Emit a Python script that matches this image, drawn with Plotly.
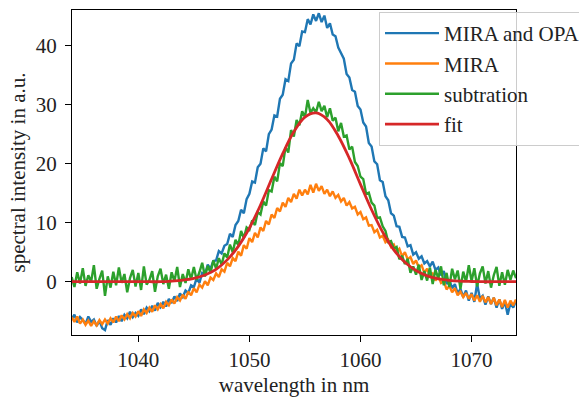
import numpy as np
import plotly.graph_objects as go

# wavelength grid (nm) for measured spectra, 0.25 nm steps
wl_start, wl_stop, wl_step = 1034.0, 1074.0, 0.25
wavelength = np.round(np.arange(wl_start, wl_stop + wl_step / 2, wl_step), 2)

mira_opa = [
    -6.3, -5.6, -6.9, -6.0,
    -6.5, -7.2, -5.9, -6.8,
    -6.4, -7.5, -6.6, -7.9,
    -8.2, -6.5, -7.3, -6.2,
    -6.9, -5.8, -6.7, -5.6,
    -6.2, -5.1, -6.0, -5.3,
    -5.8, -4.7, -5.5, -4.4,
    -5.0, -4.1, -4.9, -3.6,
    -4.3, -3.4, -4.2, -2.9,
    -3.6, -2.5, -3.3, -2.0,
    -2.6, -1.5, -1.9, -0.6,
    -0.9, 0.6, -0.2, 1.5,
    1.2, 2.9, 2.2, 3.5,
    3.6, 5.2, 4.8, 6.1,
    6.4, 8.1, 7.6, 9.6,
    10.3, 12.2, 11.6, 14.0,
    14.9, 17.0, 16.8, 19.4,
    20.0, 22.6, 22.1, 25.0,
    25.8, 28.2, 28.0, 31.0,
    31.7, 34.3, 34.0, 37.0,
    37.6, 40.4, 39.9, 42.4,
    42.3, 44.5, 43.6, 45.3,
    44.2, 45.5, 44.0, 45.1,
    43.0, 43.8, 41.9, 41.6,
    39.7, 38.8, 37.8, 35.2,
    34.6, 32.5, 32.2, 29.8,
    29.2, 27.0, 26.3, 23.5,
    22.9, 20.4, 19.9, 17.2,
    16.9, 14.5, 13.8, 11.6,
    11.2, 9.4, 9.3, 7.6,
    7.5, 6.0, 6.2, 4.6,
    5.0, 3.9, 4.3, 3.1,
    3.5, 2.6, 3.4, 2.0,
    2.4, 1.1, 1.8, -0.4,
    0.3, -1.1, -0.4, -2.0,
    -1.2, -2.6, -1.5, -3.2,
    -1.9, -3.4, -0.3, -2.9,
    -2.4, -3.9, -2.5, -3.8,
    -2.7, -4.4, -3.0, -4.6,
    -3.4, -5.6, -3.6, -4.4,
    -3.2,
]

mira = [
    -6.0, -6.8, -5.9, -7.1,
    -6.4, -7.3, -6.6, -7.5,
    -6.7, -7.4, -6.5, -7.2,
    -6.4, -7.1, -6.2, -6.9,
    -5.9, -6.7, -5.7, -6.4,
    -5.5, -6.2, -5.3, -5.9,
    -5.0, -5.8, -4.7, -5.3,
    -4.4, -5.1, -4.0, -4.7,
    -3.8, -4.5, -3.4, -4.0,
    -3.0, -3.7, -2.6, -3.2,
    -2.2, -2.9, -1.7, -2.3,
    -1.1, -1.8, -0.5, -1.0,
    0.1, -0.6, 0.7, 0.3,
    1.4, 0.8, 2.1, 1.7,
    3.2, 2.6, 4.0, 3.5,
    5.1, 4.4, 6.2, 5.6,
    7.4, 6.7, 8.3, 7.5,
    9.2, 8.6, 10.3, 9.7,
    11.4, 10.8, 12.5, 11.9,
    13.4, 12.7, 14.2, 13.5,
    14.9, 14.1, 15.6, 14.6,
    15.6, 14.8, 16.4, 15.1,
    16.6, 15.4, 16.2, 14.9,
    15.6, 14.5, 15.3, 14.2,
    14.7, 13.6, 14.2, 12.9,
    13.5, 12.4, 12.7, 11.4,
    11.8, 10.6, 10.9, 9.5,
    9.6, 8.4, 8.8, 7.5,
    7.8, 6.7, 7.1, 5.9,
    6.3, 5.1, 5.6, 4.3,
    5.0, 3.8, 4.2, 3.0,
    3.6, 2.4, 2.8, 1.5,
    2.2, 1.0, 1.4, 0.2,
    1.0, -0.2, 0.1, -1.3,
    -0.7, -1.8, -1.1, -2.3,
    -1.7, -2.6, -1.9, -2.9,
    -2.1, -3.2, -2.3, -3.4,
    -2.4, -3.5, -2.6, -3.8,
    -2.7, -4.0, -3.0, -4.3,
    -3.1, -4.4, -3.2, -4.0,
    -3.0,
]

subtraction = [
    0.8, -0.9, 1.6, -0.3,
    2.3, -0.7, 1.1, 0.0,
    2.8, -1.2, 0.5, 1.9,
    -2.4, 0.9, -1.0, 1.7,
    -0.6, 2.4, -0.2, 1.3,
    -1.8, 0.6, 2.0, -0.8,
    1.5, -1.4, 2.6, -0.5,
    0.3, 1.8, -1.7, 0.9,
    2.2, -0.4, 1.2, -1.2,
    1.6, 0.1, 2.5, -0.9,
    1.3, -0.2, 2.1, 0.4,
    2.5, 0.3, 1.6, 3.2,
    0.9, 2.7, 1.5, 3.6,
    2.2, 4.0, 2.9, 4.8,
    4.1, 6.3, 5.0, 7.1,
    6.2, 8.6, 7.4, 9.2,
    8.8, 10.4, 9.6, 11.8,
    11.4, 13.6, 12.9, 15.5,
    15.3, 17.8, 17.0, 20.1,
    19.6, 22.8, 21.9, 25.7,
    24.6, 27.4, 26.5, 28.9,
    27.9, 30.8, 28.6, 29.4,
    28.7, 30.5, 28.9, 29.8,
    27.9, 29.4, 27.3, 27.8,
    25.5, 26.9, 24.6, 24.8,
    22.4, 22.9, 20.3, 19.6,
    17.8, 17.4, 14.9, 15.1,
    13.4, 12.9, 10.8, 10.9,
    9.4, 8.6, 6.7, 6.9,
    5.6, 5.9, 3.8, 4.4,
    3.0, 3.9, 1.5, 2.6,
    1.2, 2.9, 0.3, 1.8,
    0.2, 2.4, -0.4, 2.0,
    0.6, 2.6, -0.6, 1.5,
    -0.9, 2.2, 0.4, 1.9,
    -1.2, 1.7, 0.0, 2.8,
    0.1, 2.3, -0.8, 1.4,
    2.6, -0.3, 1.8, -1.0,
    1.1, 2.5, -0.7, 1.6,
    -0.5, 2.0, 0.3, 1.9,
    0.6,
]

# fit curve sampled every 1 nm
fit_wavelength = list(range(1034, 1075))
fit = [
    0.0, 0.0, 0.0, 0.0, 0.0, 0.0, 0.0, 0.0, 0.0, 0.1,
    0.27, 0.57, 1.14, 2.1, 3.7, 6.0, 9.1, 13.0, 17.4, 21.7,
    25.4, 27.9, 28.6, 27.5, 24.7, 20.9, 16.5, 12.2, 8.4, 5.4,
    3.3, 1.9, 1.0, 0.5, 0.23, 0.1, 0.04, 0.0, 0.0, 0.0,
    0.0,
]

x_range = [1034.03, 1074.0]
y_range = [-9.03, 46.05]
x_ticks = [1040, 1050, 1060, 1070]
y_ticks = [0, 10, 20, 30, 40]

FONT = "Liberation Serif"

fig = go.Figure()
series = [
    ("MIRA and OPA", wavelength, mira_opa, "#1f77b4", "linear", 2.4),
    ("MIRA", wavelength, mira, "#ff7f0e", "linear", 2.4),
    ("subtration", wavelength, subtraction, "#2ca02c", "linear", 2.4),
    ("fit", fit_wavelength, fit, "#d62728", "spline", 2.8),
]
for i, (name, xs, ys, col, shape, w) in enumerate(series):
    fig.add_trace(go.Scatter(
        x=xs, y=ys, mode="lines", name=name, legendgroup=str(i),
        line=dict(color=col, width=w, shape=shape),
    ))

axis_common = dict(
    showgrid=False, zeroline=False, showline=True, mirror=True,
    linecolor="black", linewidth=1.3, ticks="outside", ticklen=6,
    tickwidth=1.3, tickcolor="black",
    tickfont=dict(family=FONT, size=21, color="#222"),
    title_font=dict(family=FONT, size=21, color="#222"),
    automargin=False,
)

fig.update_xaxes(range=x_range, tickvals=x_ticks, ticklabelstandoff=0,
                 title=dict(text="wavelength in nm", standoff=14), **axis_common)
fig.update_yaxes(range=y_range, tickvals=y_ticks, ticklabelstandoff=4,
                 title=dict(text="spectral intensity in a.u.", standoff=4), **axis_common)

fig.update_layout(
    width=579, height=397,
    margin=dict(l=72, r=63, t=10, b=62, autoexpand=False),
    paper_bgcolor="white", plot_bgcolor="white",
    font=dict(family=FONT, size=21, color="#222"),
    legend=dict(
        x=(379 - 72) / 444, y=(335 - 12) / 325, xanchor="left", yanchor="top",
        bgcolor="rgba(255,255,255,0.8)", bordercolor="#cccccc", borderwidth=1,
        font=dict(family=FONT, size=21, color="#222"),
        tracegroupgap=0, traceorder="grouped", itemwidth=54,
    ),
    showlegend=True,
)

fig.write_html("out.html")
